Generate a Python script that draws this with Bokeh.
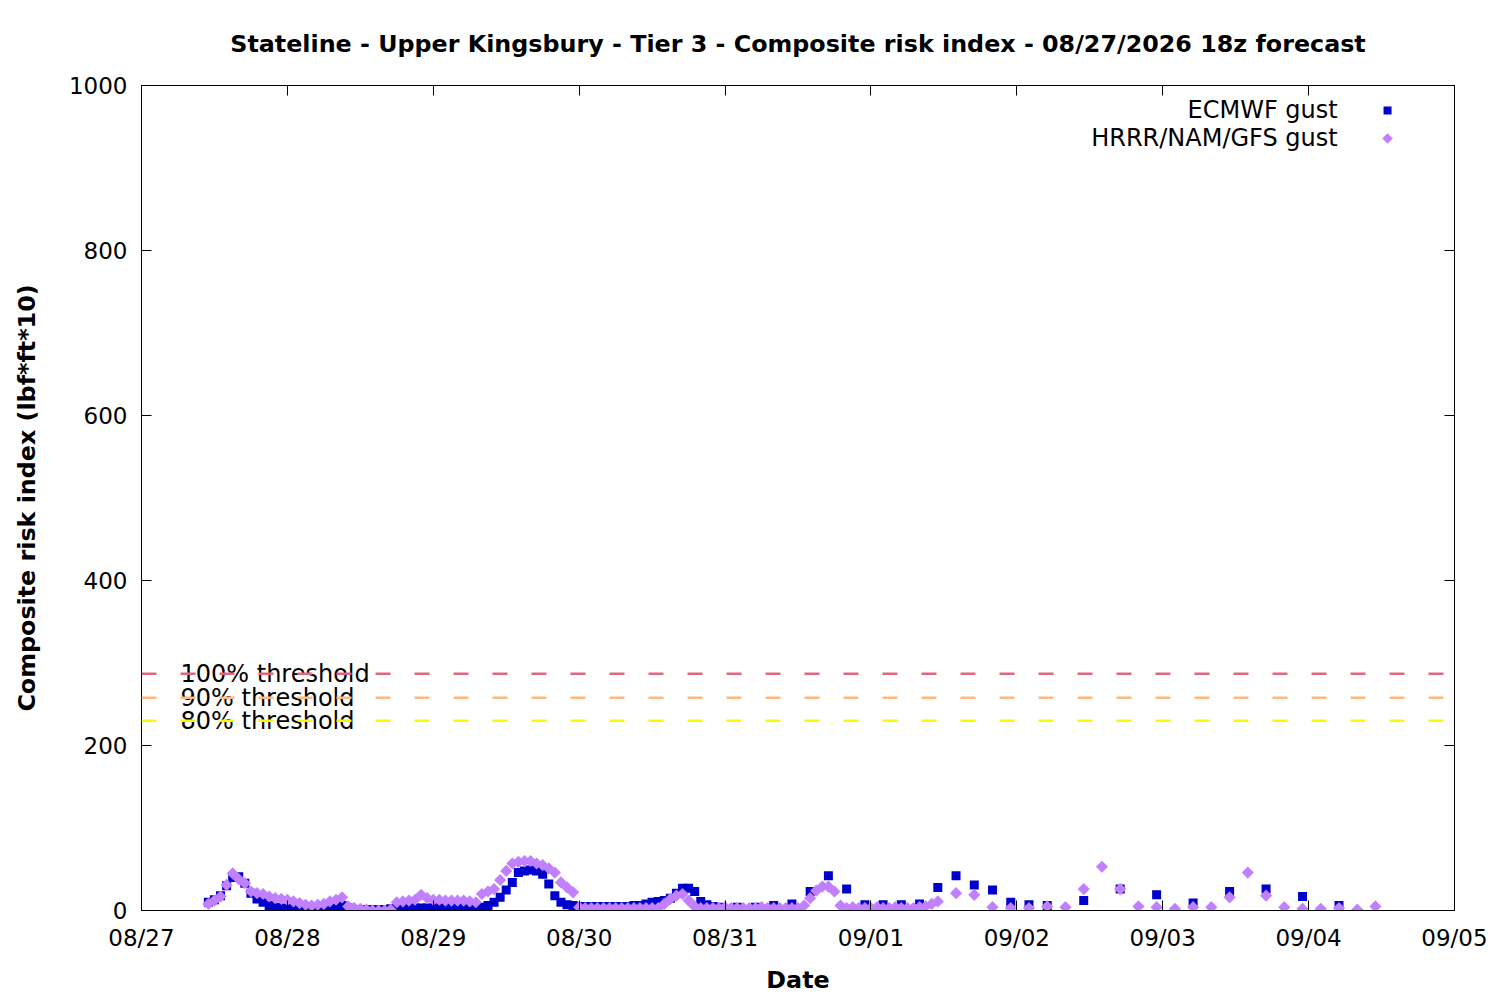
import numpy as np
import pandas as pd
from datetime import datetime
from bokeh.plotting import figure
from bokeh.models import (Range1d, FixedTicker, DatetimeTickFormatter, CustomJSTickFormatter,
                          LinearAxis, Span, Label, ColumnDataSource, Title)
from bokeh.embed import file_html
from bokeh.resources import INLINE

TITLE = "Stateline - Upper Kingsbury - Tier 3 - Composite risk index - 08/27/2026 18z forecast"
X_LABEL = "Date"
Y_LABEL = "Composite risk index (lbf*ft*10)"
SERIES_NAMES = ["ECMWF gust", "HRRR/NAM/GFS gust"]

# ECMWF: hourly 08/27 11:00 .. 08/30 23:00
ecmwf_hourly = [10, 13, 18, 30, 40, 41, 33, 21, 14, 10, 6, 4, 3, 2, 2, 2, 2, 2, 2, 3,
                4, 6, 6, 3, 1, 1, 1, 1, 1, 1, 2, 3, 3, 3, 3, 3, 3, 3, 3, 3,
                3, 3, 3, 3, 3, 4, 6, 10, 16, 25, 34, 46, 48, 49, 48, 44, 32, 18, 10, 7,
                6, 5, 5, 5, 5, 5, 5, 5, 5, 5, 6, 6, 8, 10, 11, 12, 15, 21, 27, 27,
                23, 11, 7, 5, 4]
# ECMWF: 3-hourly 08/31 02:00 .. 09/02 05:00
ecmwf_3h = [4, 4, 6, 8, 23, 42, 26, 7, 7, 7, 8, 28, 42, 31, 25, 10, 7, 6]
# ECMWF: 6-hourly 09/02 11:00 .. 09/04 05:00
ecmwf_6h = [12, 26, 19, 9, 23, 26, 17, 6]

# HRRR/NAM/GFS: hourly 08/27 11:00 .. 09/01 11:00
hrrr_hourly = [8, 12, 17, 31, 45, 38, 33, 23, 21, 20, 17, 15, 14, 13, 11, 9, 7, 6, 7, 8,
               11, 13, 16, 5, 3, 2, 1, 0, 0, 0, 1, 10, 11, 12, 13, 19, 15, 13, 13, 12,
               12, 12, 12, 11, 10, 20, 23, 26, 37, 48, 57, 59, 60, 60, 57, 55, 51, 46, 34, 28,
               22, 4, 3, 3, 3, 3, 3, 3, 3, 3, 3, 3, 3, 3, 3, 8, 14, 18, 20, 12,
               5, 3, 3, 3, 3, 4, 3, 3, 3, 3, 3, 4, 3, 3, 3, 3, 3, 3, 6, 15,
               24, 29, 29, 23, 6, 3, 4, 3, 3, 3, 4, 3, 3, 4, 3, 3, 3, 4, 5, 8,
               11]
# HRRR/NAM/GFS: 3-hourly 09/01 14:00 .. 09/04 11:00
hrrr_3h = [21, 19, 4, 3, 3, 5, 4, 26, 53, 26, 5, 4, 2, 4, 4, 16, 46, 18, 4, 2, 2, 3, 1, 5]

thresholds = [287, 258, 230]
threshold_labels = ["100% threshold", "90% threshold", "80% threshold"]
threshold_colors = ["#e0687e", "#fcba80", "#fafa00"]

x_ticks = pd.date_range("2026-08-27", "2026-09-05", freq="D")
y_ticks = [0, 200, 400, 600, 800, 1000]

ecmwf_t = (pd.date_range("2026-08-27 11:00", periods=len(ecmwf_hourly), freq="h")
           .append(pd.date_range("2026-08-31 02:00", periods=len(ecmwf_3h), freq="3h"))
           .append(pd.date_range("2026-09-02 11:00", periods=len(ecmwf_6h), freq="6h")))
ecmwf_v = ecmwf_hourly + ecmwf_3h + ecmwf_6h
hrrr_t = (pd.date_range("2026-08-27 11:00", periods=len(hrrr_hourly), freq="h")
          .append(pd.date_range("2026-09-01 14:00", periods=len(hrrr_3h), freq="3h")))
hrrr_v = hrrr_hourly + hrrr_3h

FONT = "DejaVu Sans"
BLUE = "#0000cd"
LAV = "#c080ff"

p = figure(width=1492, height=998, output_backend="svg", toolbar_location=None,
           x_axis_type="datetime",
           x_range=Range1d(datetime(2026, 8, 27), datetime(2026, 9, 5)),
           y_range=Range1d(0, 1000),
           min_border_left=141, min_border_right=38, min_border_top=85, min_border_bottom=88)
p.title = Title(text=TITLE, align="center", text_font=FONT, text_font_size="23.8px",
                text_font_style="bold", text_color="black", standoff=55)
p.grid.visible = False
p.outline_line_color = "black"
p.outline_line_width = 1
p.background_fill_color = "white"
p.border_fill_color = "white"

tick_ms = (x_ticks.astype("int64") // 10**6).tolist()
fmt = DatetimeTickFormatter(days="%m/%d", months="%m/%d", hours="%m/%d", years="%m/%d")

xa = p.xaxis[0]
xa.ticker = FixedTicker(ticks=tick_ms)
xa.formatter = fmt
ya = p.yaxis[0]
ya.ticker = FixedTicker(ticks=y_ticks)
for ax in (xa, ya):
    ax.major_tick_in = 10
    ax.major_tick_out = 0
    ax.minor_tick_line_color = None
    ax.axis_line_color = "black"
    ax.major_tick_line_color = "black"
    ax.major_label_text_font = FONT
    ax.major_label_text_font_size = "23px"
    ax.major_label_text_color = "black"
    ax.axis_label_text_font = FONT
    ax.axis_label_text_font_size = "23.8px"
    ax.axis_label_text_font_style = "bold"
    ax.axis_label_text_color = "black"
xa.axis_label = X_LABEL
ya.axis_label = Y_LABEL
xa.major_label_standoff = 14
ya.major_label_standoff = 14
xa.axis_label_standoff = 12
ya.axis_label_standoff = 25

blank = CustomJSTickFormatter(code="return ''")
top = LinearAxis(ticker=FixedTicker(ticks=tick_ms), formatter=blank)
right = LinearAxis(ticker=FixedTicker(ticks=y_ticks), formatter=blank)
for ax in (top, right):
    ax.major_tick_in = 10
    ax.major_tick_out = 0
    ax.minor_tick_line_color = None
    ax.major_label_standoff = 0
    ax.axis_line_color = "black"
p.add_layout(top, "above")
p.add_layout(right, "right")

# threshold labels (under the lines) and lines
lab_x = datetime(2026, 8, 27, 6, 25)
for val, txt in zip(thresholds, threshold_labels):
    p.add_layout(Label(x=lab_x, y=val, text=txt, text_font=FONT, text_font_size="24px",
                       text_color="black", text_baseline="middle", text_align="left"))
for val, col in zip(thresholds, threshold_colors):
    p.add_layout(Span(location=val, dimension="width", line_color=col, line_width=2.5,
                      line_dash="15 24"))

src_e = ColumnDataSource(dict(t=ecmwf_t, v=ecmwf_v))
src_h = ColumnDataSource(dict(t=hrrr_t, v=hrrr_v))
p.scatter("t", "v", source=src_e, marker="square", size=9, fill_color=BLUE, line_color=None)
p.scatter("t", "v", source=src_h, marker="square", angle=np.pi / 4, size=8.6,
          fill_color=LAV, line_color=None)

# legend (gnuplot style: text left, sample right)
leg_text_x = datetime(2026, 9, 4, 4, 47)
leg_key_x = datetime(2026, 9, 4, 12, 59)
leg_y = [969.7, 935.8]
for name, yy in zip(SERIES_NAMES, leg_y):
    p.add_layout(Label(x=leg_text_x, y=yy, text=name, text_font=FONT, text_font_size="24px",
                       text_color="black", text_baseline="middle", text_align="right"))
p.scatter(x=[leg_key_x], y=[leg_y[0]], marker="square", size=8, fill_color=BLUE, line_color=None)
p.scatter(x=[leg_key_x], y=[leg_y[1]], marker="square", angle=np.pi / 4, size=7.5,
          fill_color=LAV, line_color=None)

open("out.html", "w").write(file_html(p, INLINE))
